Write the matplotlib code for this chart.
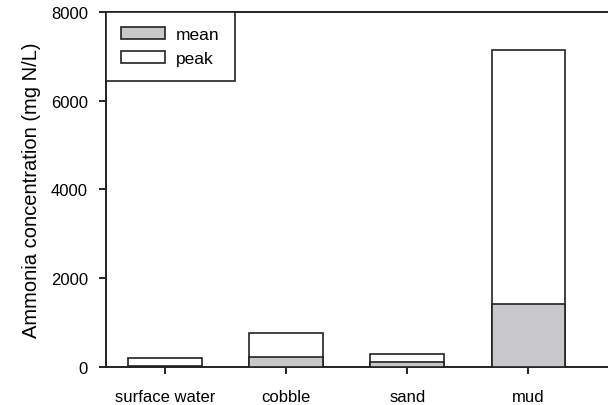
import numpy as np
import matplotlib
matplotlib.use("Agg")
import matplotlib.pyplot as plt

plt.rcParams['font.family'] = ['Liberation Sans', 'DejaVu Sans']

sites = ["surface water", "cobble", "sand", "mud"]
peak = [200, 760, 290, 7140]
mean = [30, 230, 100, 1420]

fig = plt.figure(figsize=(6.09, 4.06), dpi=100)
ax = fig.add_axes([0.174, 0.094, 0.823, 0.874])

x = np.arange(len(sites))
ax.bar(x, peak, width=0.61, color="white", edgecolor="#222222", linewidth=1.2, label="peak", zorder=2)
ax.bar(x, mean, width=0.61, color="#c8c8ca", edgecolor="#222222", linewidth=1.2, label="mean", zorder=3)

ax.set_xlim(-0.49, 3.65)
ax.set_ylim(0, 8000)
ax.set_yticks([0, 2000, 4000, 6000, 8000])
ax.set_xticks(x)
ax.set_xticklabels(sites)
ax.tick_params(direction="out", length=5, width=1.2, labelsize=12)
ax.tick_params(axis="y", pad=8)
ax.tick_params(axis="x", pad=11)
ax.set_ylabel("Ammonia concentration (mg N/L)", fontsize=14.5, labelpad=7)

for s in ["left", "bottom", "top"]:
    ax.spines[s].set_linewidth(1.4)
    ax.spines[s].set_color("#222222")
ax.spines["right"].set_visible(False)

h, l = ax.get_legend_handles_labels()
leg = ax.legend(h[::-1], l[::-1], loc="upper left", borderaxespad=0, fontsize=12.5,
                fancybox=False, edgecolor="#222222", framealpha=1,
                handlelength=2.5, handleheight=0.63, borderpad=0.88, labelspacing=0.5,
                handletextpad=0.65)
leg.get_frame().set_linewidth(1.2)

fig.savefig("out.png", dpi=100)
